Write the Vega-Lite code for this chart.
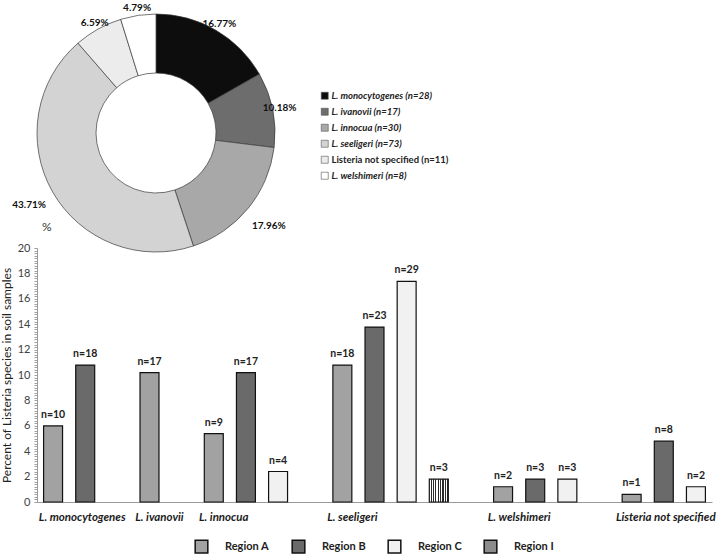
{
  "$schema": "https://vega.github.io/schema/vega-lite/v6.json",
  "padding": {"left": 0, "top": 3, "right": 5, "bottom": 0},
  "background": "white",
  "config": {"view": {"stroke": null}, "font": "Lato"},
  "datasets": {
    "donut": [
      {"species": "L. monocytogenes (n=28)", "n": 28, "pct": "16.77%"},
      {"species": "L. ivanovii (n=17)", "n": 17, "pct": "10.18%"},
      {"species": "L. innocua (n=30)", "n": 30, "pct": "17.96%"},
      {"species": "L. seeligeri (n=73)", "n": 73, "pct": "43.71%"},
      {"species": "Listeria not specified (n=11)", "n": 11, "pct": "6.59%"},
      {"species": "L. welshimeri (n=8)", "n": 8, "pct": "4.79%"}
    ],
    "bars": [
      {"species": "L. monocytogenes", "region": "Region A", "n": 10, "pct": 5.99},
      {"species": "L. monocytogenes", "region": "Region B", "n": 18, "pct": 10.78},
      {"species": "L. ivanovii", "region": "Region A", "n": 17, "pct": 10.18},
      {"species": "L. innocua", "region": "Region A", "n": 9, "pct": 5.39},
      {"species": "L. innocua", "region": "Region B", "n": 17, "pct": 10.18},
      {"species": "L. innocua", "region": "Region C", "n": 4, "pct": 2.40},
      {"species": "L. seeligeri", "region": "Region A", "n": 18, "pct": 10.78},
      {"species": "L. seeligeri", "region": "Region B", "n": 23, "pct": 13.77},
      {"species": "L. seeligeri", "region": "Region C", "n": 29, "pct": 17.37},
      {"species": "L. seeligeri", "region": "Region I", "n": 3, "pct": 1.80},
      {"species": "L. welshimeri", "region": "Region A", "n": 2, "pct": 1.20},
      {"species": "L. welshimeri", "region": "Region B", "n": 3, "pct": 1.80},
      {"species": "L. welshimeri", "region": "Region C", "n": 3, "pct": 1.80},
      {"species": "Listeria not specified", "region": "Region A", "n": 1, "pct": 0.60},
      {"species": "Listeria not specified", "region": "Region B", "n": 8, "pct": 4.79},
      {"species": "Listeria not specified", "region": "Region C", "n": 2, "pct": 1.20}
    ]
  },
  "vconcat": [
    {
      "width": 238,
      "height": 230,
      "data": {"name": "donut"},
      "transform": [{"window": [{"op": "row_number", "as": "rank"}]}],
      "encoding": {
        "theta": {"field": "n", "type": "quantitative", "stack": true},
        "order": {"field": "rank", "type": "quantitative"},
        "color": {
          "field": "species",
          "type": "nominal",
          "scale": {
            "domain": ["L. monocytogenes (n=28)", "L. ivanovii (n=17)", "L. innocua (n=30)", "L. seeligeri (n=73)", "Listeria not specified (n=11)", "L. welshimeri (n=8)"],
            "range": ["#0d0d0d", "#6d6d6d", "#a8a8a8", "#d3d3d3", "#ececec", "#ffffff"]
          },
          "legend": {
            "orient": "none",
            "legendX": 283,
            "legendY": 73,
            "title": null,
            "symbolType": "square",
            "symbolSize": 49,
            "symbolStrokeColor": "#555555",
            "symbolStrokeWidth": 0.6,
            "labelFont": "Lato",
            "labelFontSize": 9.5,
            "labelFontWeight": "bold",
            "labelFontStyle": {"expr": "datum.label == 'Listeria not specified (n=11)' ? 'normal' : 'italic'"},
            "labelColor": "#222222",
            "labelOffset": 2,
            "rowPadding": 5
          }
        }
      },
      "layer": [
        {"mark": {"type": "arc", "outerRadius": 119, "innerRadius": 60, "stroke": "#3a3a3a", "strokeWidth": 0.7}},
        {
          "mark": {"type": "text", "radius": {"expr": "datum.n >= 30 ? 146 : 126"}, "font": "Lato", "fontSize": 10, "fontWeight": "bold", "fill": "#111111"},
          "encoding": {
            "color": {"value": "#111111"},
            "text": {"field": "pct"}
          }
        }
      ]
    },
    {
      "width": 675,
      "height": 254,
      "data": {"name": "bars"},
      "title": {"text": "%", "anchor": "start", "frame": "group", "dx": 5, "offset": 8, "fontSize": 12, "fontWeight": "normal", "color": "#333333", "font": "Lato"},
      "transform": [
        {"calculate": "datum.species + '|' + datum.region", "as": "key"},
        {"calculate": "'n=' + datum.n", "as": "label"}
      ],
      "encoding": {
        "x": {
          "field": "key",
          "type": "nominal",
          "sort": null,
          "scale": {
            "domain": ["L. monocytogenes|Region A", "L. monocytogenes|Region B", "gap1", "L. ivanovii|Region A", "gap2", "L. innocua|Region A", "L. innocua|Region B", "L. innocua|Region C", "gap3", "L. seeligeri|Region A", "L. seeligeri|Region B", "L. seeligeri|Region C", "L. seeligeri|Region I", "gap4", "L. welshimeri|Region A", "L. welshimeri|Region B", "L. welshimeri|Region C", "gap5", "Listeria not specified|Region A", "Listeria not specified|Region B", "Listeria not specified|Region C"],
            "paddingInner": 0.41,
            "paddingOuter": 0.205
          },
          "axis": {
            "title": null,
            "values": ["L. monocytogenes|Region B", "L. ivanovii|Region A", "L. innocua|Region A", "L. seeligeri|Region A", "L. welshimeri|Region B", "Listeria not specified|Region B"],
            "labelExpr": "split(datum.value, '|')[0]",
            "ticks": false,
            "domainColor": "#9a9a9a",
            "labelAngle": 0,
            "labelFont": "Lato",
            "labelFontSize": 11.5,
            "labelFontWeight": "bold",
            "labelFontStyle": "italic",
            "labelColor": "#1a1a1a",
            "labelPadding": 9,
            "labelOverlap": false,
            "labelBound": false,
            "labelOffset": {
              "condition": [
                {"test": "datum.value == 'L. monocytogenes|Region B'", "value": -3},
                {"test": "datum.value == 'L. welshimeri|Region B'", "value": -16},
                {"test": "datum.value == 'Listeria not specified|Region B'", "value": 2}
              ],
              "value": 10
            }
          }
        },
        "y": {
          "field": "pct",
          "type": "quantitative",
          "scale": {"domain": [0, 20], "nice": false},
          "axis": {
            "title": "Percent of Listeria species in soil samples",
            "titleFont": "Lato",
            "titleFontSize": 12,
            "titleFontWeight": "normal",
            "titleColor": "#222222",
            "titlePadding": 4,
            "values": [0,0.2,0.4,0.6,0.8,1,1.2,1.4,1.6,1.8,2,2.2,2.4,2.6,2.8,3,3.2,3.4,3.6,3.8,4,4.2,4.4,4.6,4.8,5,5.2,5.4,5.6,5.8,6,6.2,6.4,6.6,6.8,7,7.2,7.4,7.6,7.8,8,8.2,8.4,8.6,8.8,9,9.2,9.4,9.6,9.8,10,10.2,10.4,10.6,10.8,11,11.2,11.4,11.6,11.8,12,12.2,12.4,12.6,12.8,13,13.2,13.4,13.6,13.8,14,14.2,14.4,14.6,14.8,15,15.2,15.4,15.6,15.8,16,16.2,16.4,16.6,16.8,17,17.2,17.4,17.6,17.8,18,18.2,18.4,18.6,18.8,19,19.2,19.4,19.6,19.8,20],
            "labelExpr": "round(datum.value * 10) % 20 == 0 ? format(round(datum.value), 'd') : ''",
            "labelOverlap": false,
            "labelFont": "Lato",
            "labelFontSize": 11,
            "labelColor": "#404040",
            "labelPadding": 4,
            "tickSize": 3,
            "tickColor": "#a0a0a0",
            "domainColor": "#9a9a9a",
            "grid": false
          }
        }
      },
      "layer": [
        {
          "mark": {"type": "bar", "stroke": "#111111", "strokeWidth": 1.2},
          "encoding": {
            "fill": {
              "condition": {
                "test": "datum.region == 'Region I'",
                "value": {
                  "gradient": "linear", "x1": 0, "y1": 0, "x2": 1, "y2": 0,
                  "stops": [
                    {"offset": 0, "color": "#ffffff"}, {"offset": 0.07, "color": "#ffffff"}, {"offset": 0.07, "color": "#2a2a2a"}, {"offset": 0.125, "color": "#2a2a2a"},
                    {"offset": 0.125, "color": "#ffffff"}, {"offset": 0.195, "color": "#ffffff"}, {"offset": 0.195, "color": "#2a2a2a"}, {"offset": 0.25, "color": "#2a2a2a"},
                    {"offset": 0.25, "color": "#ffffff"}, {"offset": 0.32, "color": "#ffffff"}, {"offset": 0.32, "color": "#2a2a2a"}, {"offset": 0.375, "color": "#2a2a2a"},
                    {"offset": 0.375, "color": "#ffffff"}, {"offset": 0.445, "color": "#ffffff"}, {"offset": 0.445, "color": "#2a2a2a"}, {"offset": 0.5, "color": "#2a2a2a"},
                    {"offset": 0.5, "color": "#ffffff"}, {"offset": 0.57, "color": "#ffffff"}, {"offset": 0.57, "color": "#2a2a2a"}, {"offset": 0.625, "color": "#2a2a2a"},
                    {"offset": 0.625, "color": "#ffffff"}, {"offset": 0.695, "color": "#ffffff"}, {"offset": 0.695, "color": "#2a2a2a"}, {"offset": 0.75, "color": "#2a2a2a"},
                    {"offset": 0.75, "color": "#ffffff"}, {"offset": 0.82, "color": "#ffffff"}, {"offset": 0.82, "color": "#2a2a2a"}, {"offset": 0.875, "color": "#2a2a2a"},
                    {"offset": 0.875, "color": "#ffffff"}, {"offset": 0.945, "color": "#ffffff"}, {"offset": 0.945, "color": "#2a2a2a"}, {"offset": 1, "color": "#2a2a2a"}
                  ]
                }
              },
              "field": "region",
              "type": "nominal",
              "scale": {
                "domain": ["Region A", "Region B", "Region C", "Region I"],
                "range": ["#a2a2a2", "#6a6a6a", "#f1f1f1", "#8c8c8c"]
              },
              "legend": {
                "orient": "none",
                "legendX": 157,
                "legendY": 521,
                "direction": "horizontal",
                "title": null,
                "symbolType": "square",
                "symbolSize": 160,
                "symbolStrokeColor": "#111111",
                "symbolStrokeWidth": 1.5,
                "labelFont": "Lato",
                "labelFontSize": 11,
                "labelFontWeight": "bold",
                "labelColor": "#222222",
                "labelOffset": 16,
                "columnPadding": 19
              }
            }
          }
        },
        {
          "mark": {"type": "text", "baseline": "bottom", "dy": -6, "font": "Lato", "fontSize": 10.5, "fontWeight": "bold", "fill": "#222222"},
          "encoding": {"text": {"field": "label"}}
        }
      ]
    }
  ],
  "spacing": 0,
  "bounds": "flush"
}
